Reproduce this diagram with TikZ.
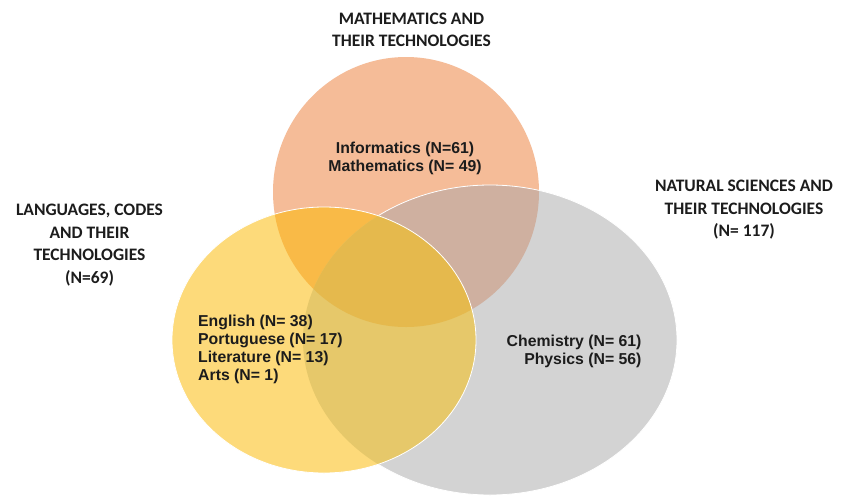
\documentclass[tikz,border=0pt]{standalone}
\usepackage{fontspec}
\setmainfont{Liberation Sans}
\newfontfamily\titlefont{Carlito}
\definecolor{cO}{HTML}{F5BC98}
\definecolor{cY}{HTML}{FDDA7A}
\definecolor{cG}{HTML}{D3D3D3}
\definecolor{cOY}{HTML}{F9BA47}
\definecolor{cOG}{HTML}{CFB0A0}
\definecolor{cYG}{HTML}{E6C86A}
\definecolor{cOYG}{HTML}{E5B94D}
\definecolor{txt}{HTML}{1C1C1C}
\newcommand{\tlines}[2]{\begin{tabular}[t]{@{}#1@{}}#2\end{tabular}}
\tikzset{
  ttl/.style={font=\titlefont\bfseries\fontsize{17.5}{22.5}\selectfont, text=txt, inner sep=0pt, anchor=base},
  lbl/.style={font=\bfseries\fontsize{15.8}{17.9}\selectfont, text=txt, inner sep=0pt, anchor=base},
  rim/.style={draw=white, line width=0.8pt}
}
\def\Oell{(406,192) ellipse [x radius=133, y radius=135]}
\def\Yell{(324,340) ellipse [x radius=152, y radius=133]}
\def\Gell{(490,340) ellipse [x radius=187, y radius=155]}
\begin{document}
\begin{tikzpicture}[x=1pt,y=-1pt]
\useasboundingbox (0,0) rectangle (841,496);
\fill[white] (0,0) rectangle (841,496);
% base ellipses
\fill[cO] \Oell;
\fill[cG] \Gell;
\begin{scope}\clip \Oell; \fill[cOG] \Gell; \end{scope}
\draw[rim] \Gell;
\fill[cY] \Yell;
\begin{scope}\clip \Oell; \fill[cOY] \Yell; \end{scope}
\begin{scope}\clip \Yell; \fill[cYG] \Gell; \end{scope}
\begin{scope}\clip \Oell; \clip \Yell; \fill[cOYG] \Gell; \end{scope}
\draw[rim] \Yell;
% titles
\node[ttl] (tmath) at (411.5,24) {\tlines{c}{MATHEMATICS AND\\THEIR TECHNOLOGIES}};
\node[ttl] (tlang) at (89.5,215.7) {\tlines{c}{LANGUAGES, CODES\\AND THEIR\\TECHNOLOGIES\\(N=69)}};
\node[ttl] (tnat) at (744,191.7) {\tlines{c}{NATURAL SCIENCES AND\\THEIR TECHNOLOGIES\\(N= 117)}};
% inner labels
\node[lbl] (lmath) at (405,153.3) {\tlines{c}{Informatics (N=61)\\Mathematics (N= 49)}};
\node[lbl, anchor=base west] (llang) at (198,326.7) {\tlines{l}{English (N= 38)\\Portuguese (N= 17)\\Literature (N= 13)\\Arts (N= 1)}};
\node[lbl, anchor=base east] (lnat) at (641.7,346.7) {\tlines{r}{Chemistry (N= 61)\\Physics (N= 56)}};
\end{tikzpicture}
\end{document}
